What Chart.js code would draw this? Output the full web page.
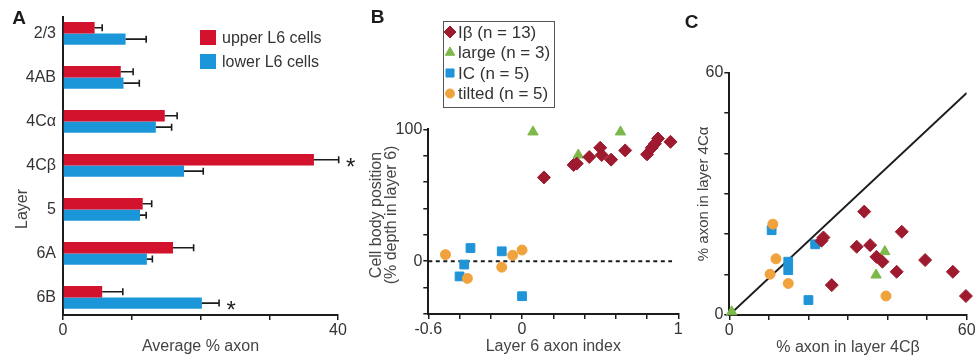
<!DOCTYPE html>
<html>
<head>
<meta charset="utf-8">
<script src="https://cdn.jsdelivr.net/npm/chart.js"></script>
<style>
  html, body { margin: 0; padding: 0; background: #fff; }
  #figure { position: relative; width: 977px; height: 362px; }
  .layer { position: absolute; left: 0; top: 0; width: 977px; height: 362px; }
</style>
</head>
<body>
<div id="figure">
  <div class="layer"><canvas id="chartA"></canvas></div>
  <div class="layer"><canvas id="chartB"></canvas></div>
  <div class="layer"><canvas id="chartC"></canvas></div>
</div>
<script>
// ---- panel A: average % axon per layer ----
var layers = ['2/3', '4AB', '4C\u03b1', '4C\u03b2', '5', '6A', '6B'];
var seriesA = ['upper L6 cells', 'lower L6 cells'];
var upperMean = [4.6, 8.4, 14.8, 36.5, 11.6, 16.0, 5.7];
var upperErr  = [1.1, 1.8, 1.8, 3.6, 1.3, 3.0, 3.0];
var lowerMean = [9.1, 8.8, 13.5, 17.6, 11.2, 12.2, 20.2];
var lowerErr  = [3.0, 2.3, 2.3, 2.8, 0.9, 0.8, 2.5];
var upperStar = [false, false, false, true, false, false, false];
var lowerStar = [false, false, false, false, false, false, true];
var aXLabels = [0, 40];

// ---- cell types (panels B and C) ----
var cellTypes = ['I\u03b2 (n = 13)', 'large (n = 3)', 'IC (n = 5)', 'tilted (n = 5)'];

// ---- panel B: layer 6 axon index vs cell body depth ----
var bIbetaX  = [0.14, 0.33, 0.35, 0.43, 0.50, 0.51, 0.57, 0.66, 0.80, 0.83, 0.85, 0.87, 0.95];
var bIbetaY  = [63.5, 73, 74, 79, 86, 80.5, 77, 84, 81, 86, 89, 93, 90.5];
var bLargeX  = [0.07, 0.36, 0.63];
var bLargeY  = [98, 80.5, 98];
var bIcX     = [-0.33, -0.37, -0.40, -0.13, 0.0];
var bIcY     = [10, -2.5, -11.5, 7.5, -26.5];
var bTiltedX = [-0.49, -0.35, -0.13, -0.06, 0.0];
var bTiltedY = [5, -13, -4.5, 4.5, 8.5];
var bZeroX   = [-0.6, 0.96];
var bZeroY   = [0, 0];
var bXLabels = [-0.6, 0, 1];
var bYLabels = [0, 100];

// ---- panel C: % axon in 4Cbeta (x) vs 4Calpha (y) ----
var cIbetaX  = [34.1, 43.6, 23.8, 23.3, 32.2, 35.6, 37.2, 38.7, 25.9, 42.3, 49.5, 56.5, 59.8];
var cIbetaY  = [25.6, 20.6, 19.2, 18.4, 16.9, 17.3, 14.4, 13.2, 7.4, 10.7, 13.6, 10.7, 4.7];
var cLargeX  = [0.6, 39.3, 37.1];
var cLargeY  = [0.8, 15.7, 9.9];
var cIcX     = [10.7, 21.7, 14.9, 14.9, 20.0];
var cIcY     = [21.0, 17.5, 13.2, 11.1, 3.7];
var cTiltedX = [11.0, 11.8, 10.3, 14.9, 39.6];
var cTiltedY = [22.5, 13.9, 10.1, 7.8, 4.7];
var cLineX   = [0, 60];
var cLineY   = [0, 55];
var cLabels  = [0, 60];

// colours
var RED_BAR = '#d3122d', BLUE_BAR = '#1b97d9';
var markers = [
  { style: 'rectRot',  color: '#9e1a2f', r: 6.5 },
  { style: 'triangle', color: '#7db84a', r: 6 },
  { style: 'rect',     color: '#1f94d7', r: 6.2 },
  { style: 'circle',   color: '#f0a23c', r: 5 }
];
var INK = '#1c1c1c';
var FONT = '"Liberation Sans", Arial, Helvetica, sans-serif';

Chart.defaults.font.family = FONT;
Chart.defaults.font.size = 16;
Chart.defaults.color = '#333';
Chart.defaults.animation = false;
Chart.defaults.events = [];
Chart.defaults.plugins.legend.display = false;
Chart.defaults.plugins.tooltip.enabled = false;

function pts(xs, ys) {
  return xs.map(function (x, i) { return { x: x, y: ys[i] }; });
}
function fixWidth(w) { return function (scale) { scale.width = w; }; }
function fixHeight(h) { return function (scale) { scale.height = h; }; }
function onlyLabels(list) {
  return function (value) {
    for (var i = 0; i < list.length; i++) {
      if (Math.abs(list[i] - value) < 1e-6) return String(list[i]);
    }
    return '';
  };
}
function tickedGrid() {
  return { display: true, drawOnChartArea: false, drawTicks: true, tickLength: 5, color: INK, lineWidth: 1.5 };
}
var axisBorder = { display: true, color: INK, width: 2 };

function letter(txt, x, y) {
  return {
    id: 'letter' + txt,
    afterDraw: function (chart) {
      var ctx = chart.ctx;
      ctx.save();
      ctx.font = 'bold 19px ' + FONT;
      ctx.fillStyle = INK;
      ctx.textAlign = 'center';
      ctx.textBaseline = 'middle';
      ctx.fillText(txt, x, y);
      ctx.restore();
    }
  };
}

// rotated y-axis title, one entry per line: [text, centre x]
function sideTitle(lines, y, size) {
  return {
    id: 'sideTitle',
    afterDraw: function (chart) {
      var ctx = chart.ctx;
      ctx.save();
      ctx.font = size + 'px ' + FONT;
      ctx.fillStyle = '#444';
      ctx.textAlign = 'center';
      ctx.textBaseline = 'middle';
      lines.forEach(function (ln) {
        ctx.save();
        ctx.translate(ln[1], y);
        ctx.rotate(-Math.PI / 2);
        ctx.fillText(ln[0], 0, 0);
        ctx.restore();
      });
      ctx.restore();
    }
  };
}

// error bars + significance stars for panel A
var errorBars = {
  id: 'errorBars',
  afterDatasetsDraw: function (chart) {
    var ctx = chart.ctx, xs = chart.scales.x;
    var means = [upperMean, lowerMean], errs = [upperErr, lowerErr], stars = [upperStar, lowerStar];
    ctx.save();
    ctx.strokeStyle = INK;
    ctx.lineWidth = 1.6;
    for (var d = 0; d < 2; d++) {
      chart.getDatasetMeta(d).data.forEach(function (bar, i) {
        var xEnd = xs.getPixelForValue(means[d][i] + errs[d][i]);
        ctx.beginPath();
        ctx.moveTo(bar.x, bar.y);
        ctx.lineTo(xEnd, bar.y);
        ctx.moveTo(xEnd, bar.y - 3.5);
        ctx.lineTo(xEnd, bar.y + 3.5);
        ctx.stroke();
        if (stars[d][i]) {
          ctx.fillStyle = INK;
          ctx.font = '24px ' + FONT;
          ctx.textAlign = 'center';
          ctx.textBaseline = 'alphabetic';
          ctx.fillText('*', xEnd + 12, bar.y + 15);
        }
      });
    }
    ctx.restore();
  }
};

var legendA = {
  id: 'legendA',
  afterDraw: function (chart) {
    var ctx = chart.ctx;
    ctx.save();
    ctx.font = '16px ' + FONT;
    ctx.textBaseline = 'middle';
    chart.data.datasets.forEach(function (ds, i) {
      var y = 37.5 + i * 24;
      ctx.fillStyle = ds.backgroundColor;
      ctx.fillRect(200, y - 7.5, 16, 15);
      ctx.fillStyle = '#333';
      ctx.fillText(ds.label, 222, y + 1);
    });
    ctx.restore();
  }
};

var legendB = {
  id: 'legendB',
  afterDraw: function (chart) {
    var ctx = chart.ctx;
    ctx.save();
    ctx.strokeStyle = '#555';
    ctx.lineWidth = 1;
    ctx.strokeRect(443.5, 21.5, 111, 86);
    ctx.font = '17px ' + FONT;
    ctx.textBaseline = 'middle';
    cellTypes.forEach(function (label, i) {
      var y = 32 + i * 20.5;
      var m = markers[i];
      ctx.fillStyle = m.color;
      ctx.strokeStyle = m.color;
      Chart.helpers.drawPoint(ctx, { pointStyle: m.style, radius: m.r - 0.5, rotation: 0, borderWidth: 1 }, 450, y);
      ctx.fillStyle = '#333';
      ctx.fillText(label, 458, y + 1);
    });
    ctx.restore();
  }
};

function scatterSets(xsList, ysList) {
  return markers.map(function (m, i) {
    return {
      label: cellTypes[i],
      data: pts(xsList[i], ysList[i]),
      pointStyle: m.style,
      pointRadius: m.r,
      backgroundColor: m.color,
      borderColor: m.color,
      borderWidth: 1,
      order: i === 0 ? 0 : 4 - i,
      clip: false
    };
  });
}

// ---------- chart A ----------
new Chart(document.getElementById('chartA'), {
  type: 'bar',
  data: {
    labels: layers,
    datasets: [
      { label: seriesA[0], data: upperMean, backgroundColor: RED_BAR, categoryPercentage: 0.52, barPercentage: 1 },
      { label: seriesA[1], data: lowerMean, backgroundColor: BLUE_BAR, categoryPercentage: 0.52, barPercentage: 1 }
    ]
  },
  options: {
    indexAxis: 'y',
    responsive: true,
    maintainAspectRatio: false,
    layout: { padding: { left: 13, right: 639, top: 16.7, bottom: 5.7 } },
    scales: {
      x: {
        type: 'linear', min: 0, max: 40,
        ticks: { stepSize: 10, autoSkip: false, maxRotation: 0, padding: 1, callback: onlyLabels(aXLabels) },
        grid: tickedGrid(), border: axisBorder,
        title: { display: true, text: 'Average % axon', padding: 0, color: '#444' },
        afterFit: fixHeight(41.3)
      },
      y: {
        type: 'category',
        grid: { display: false, drawTicks: false },
        border: axisBorder,
        ticks: { padding: 7 },
        afterFit: fixWidth(50),
        // the layer rows sit a little beyond the axis ends in the original
        afterBuildTicks: function (scale) { scale._startValue = -0.38; scale._valueRange = 6.78; }
      }
    }
  },
  plugins: [errorBars, legendA, sideTitle([['Layer', 22.5]], 209, 16), letter('A', 19, 19)]
});

// ---------- chart B ----------
var setsB = scatterSets([bIbetaX, bLargeX, bIcX, bTiltedX], [bIbetaY, bLargeY, bIcY, bTiltedY]);
setsB.push({
  type: 'line', data: pts(bZeroX, bZeroY), borderColor: INK, borderWidth: 2,
  borderDash: [4, 3.5], pointRadius: 0, order: 9, showLine: true
});
new Chart(document.getElementById('chartB'), {
  type: 'scatter',
  data: { datasets: setsB },
  options: {
    responsive: true,
    maintainAspectRatio: false,
    layout: { padding: { left: 368, right: 298.7, top: 129.3, bottom: 6.3 } },
    scales: {
      x: {
        type: 'linear', min: -0.6, max: 1,
        ticks: { stepSize: 0.2, autoSkip: false, maxRotation: 0, padding: 1, callback: onlyLabels(bXLabels) },
        grid: tickedGrid(), border: axisBorder,
        title: { display: true, text: 'Layer 6 axon index', padding: 0, color: '#444' },
        afterFit: fixHeight(41.7)
      },
      y: {
        type: 'linear', min: -40, max: 100,
        ticks: { stepSize: 20, autoSkip: false, padding: 1, callback: onlyLabels(bYLabels) },
        grid: tickedGrid(), border: axisBorder,
        afterFit: fixWidth(60.3)
      }
    }
  },
  plugins: [legendB, sideTitle([['Cell body position', 376.5], ['(% depth in layer 6)', 391.5]], 215, 16), letter('B', 377.5, 17.5)]
});

// ---------- chart C ----------
var setsC = scatterSets([cIbetaX, cLargeX, cIcX, cTiltedX], [cIbetaY, cLargeY, cIcY, cTiltedY]);
setsC.push({
  type: 'line', data: pts(cLineX, cLineY), borderColor: INK, borderWidth: 2,
  pointRadius: 0, order: 9, showLine: true
});
new Chart(document.getElementById('chartC'), {
  type: 'scatter',
  data: { datasets: setsC },
  options: {
    responsive: true,
    maintainAspectRatio: false,
    layout: { padding: { left: 695, right: 10.3, top: 72.7, bottom: 5.3 } },
    scales: {
      x: {
        type: 'linear', min: 0, max: 60,
        ticks: { stepSize: 10, autoSkip: false, maxRotation: 0, padding: 1, callback: onlyLabels(cLabels) },
        grid: tickedGrid(), border: axisBorder,
        title: { display: true, text: '% axon in layer 4C\u03b2', padding: 0, color: '#444' },
        afterFit: fixHeight(41.7)
      },
      y: {
        type: 'linear', min: 0, max: 60,
        ticks: { stepSize: 10, autoSkip: false, padding: 1, callback: onlyLabels(cLabels) },
        grid: tickedGrid(), border: axisBorder,
        title: { display: true, text: '% axon in layer 4C\u03b1', padding: 0, color: '#444', font: { size: 15 } },
        afterFit: fixWidth(34.3)
      }
    }
  },
  plugins: [letter('C', 691.5, 22.5)]
});
</script>
</body>
</html>
